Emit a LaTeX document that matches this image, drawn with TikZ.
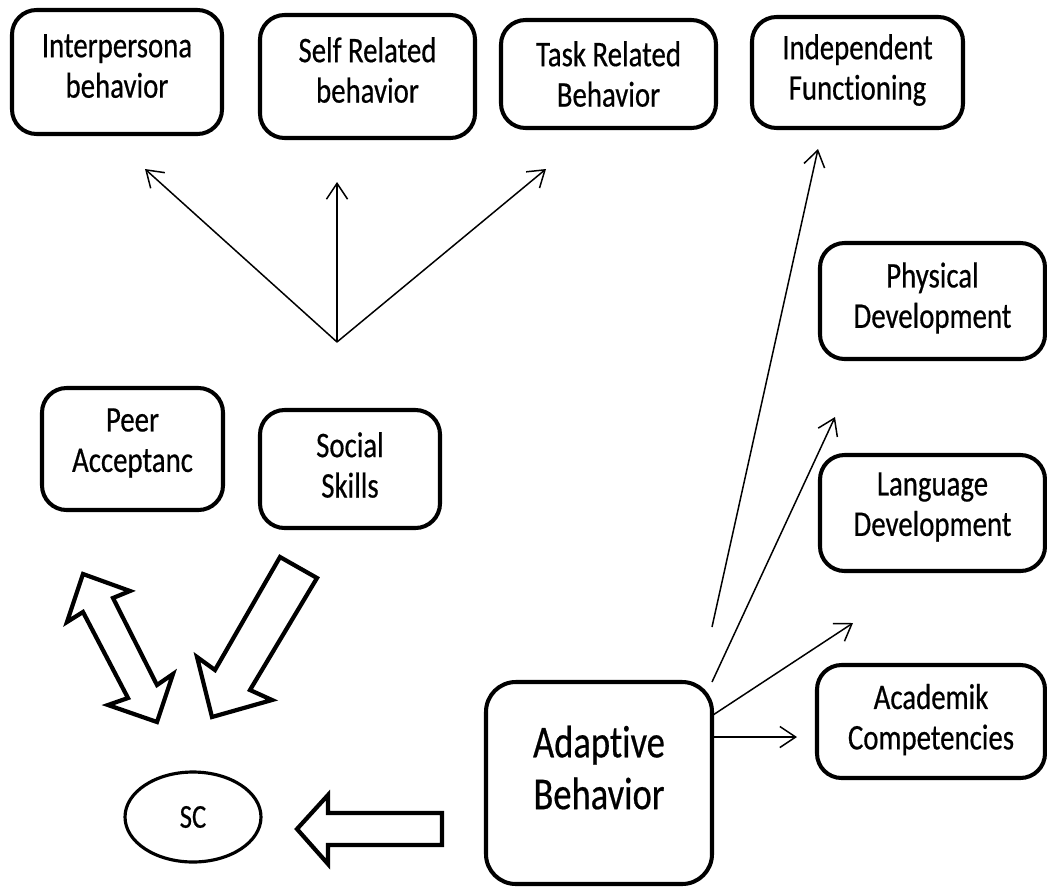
\documentclass[tikz,border=0pt]{standalone}
\usepackage{fontspec}
\setmainfont{Carlito}[FakeStretch=0.80, FakeBold=0.5, Ligatures={NoCommon}]
\usetikzlibrary{arrows.meta,fit,shapes.geometric}
\begin{document}
\begin{tikzpicture}[x=0.02cm,y=-0.02cm,
  box/.style={draw, line width=2.3pt, rounded corners=14pt, inner sep=0pt},
  bigbox/.style={box, rounded corners=17pt},
  txt/.style={align=center, inner sep=0pt, font=\fontsize{20.5}{23}\selectfont},
  bigtxt/.style={align=center, inner sep=0pt, font=\fontsize{26}{29.5}\selectfont},
  thinarrow/.style={line width=0.85pt, -{Straight Barb[length=9pt,width=12pt,line width=0.85pt]}},
  blockarrow/.style={draw, line width=2.4pt, miter limit=10, line join=miter}]
\useasboundingbox (0,0) rectangle (1047,886);

% top row
\node[box, fit={(12,10) (222,134)}, label={[txt,yshift=3.4pt]center:{Interpersona\\behavior}}] (ip) {};
\node[box, fit={(260,15) (475,138)}, label={[txt,yshift=3.7pt]center:{Self Related\\behavior}}] (sr) {};
\node[box, fit={(501,20) (716,128)}, label={[txt]center:{Task Related\\Behavior}}] (tr) {};
\node[box, fit={(752,17) (963,128)}, label={[txt,yshift=1.4pt]center:{Independent\\Functioning}}] (indf) {};

% right column
\node[box, fit={(820,243) (1045,359)}, label={[txt,yshift=1.7pt]center:{Physical\\Development}}] (pd) {};
\node[box, fit={(820,455) (1045,571)}, label={[txt,yshift=3.4pt]center:{Language\\Development}}] (ld) {};
\node[box, fit={(817,665) (1045,778)}, label={[txt,yshift=1.1pt]center:{Academik\\Competencies}}] (ac) {};

% left
\node[box, fit={(42,388) (223,510)}, label={[txt,yshift=3.4pt]center:{Peer\\Acceptanc}}] (pa) {};
\node[box, fit={(260,410) (440,528)}, label={[txt,yshift=2.3pt]center:{Social\\Skills}}] (ss) {};

% adaptive
\node[bigbox, fit={(486,682) (712,884)}, label={[bigtxt,yshift=8.8pt]center:{Adaptive\\Behavior}}] (ab) {};

% SC
\node[draw, ellipse, line width=1.8pt, minimum width=2.72cm, minimum height=1.8cm, inner sep=0pt,
      font=\fontsize{19}{22}\selectfont] (sc) at (193,817) {SC};

% fan arrows
\coordinate (fan) at (337,342);
\coordinate (tip1) at (145,169);
\coordinate (tip2) at (337,182);
\coordinate (tip3) at (546,169);
\draw[thinarrow] (fan) -- (tip1);
\draw[thinarrow] (fan) -- (tip2);
\draw[thinarrow] (fan) -- (tip3);

% adaptive arrows
\coordinate (s1) at (712,627);
\coordinate (e1) at (818,149);
\coordinate (s2) at (712,682);
\coordinate (e2) at (835,417);
\coordinate (s3) at (713,715);
\coordinate (e3) at (853,623);
\coordinate (s4) at (712,737);
\coordinate (e4) at (797,737);
\draw[thinarrow] (s1) -- (e1);
\draw[thinarrow] (s2) -- (e2);
\draw[thinarrow] (s3) -- (e3);
\draw[thinarrow] (s4) -- (e4);

% block arrows
\draw[blockarrow] (83,574) -- (130,591) -- (113,598) -- (157,685) -- (173,674) -- (157,722)
  -- (108,705) -- (128,698) -- (83,612) -- (67,622) -- cycle;
\draw[blockarrow] (280,557) -- (317,578) -- (250,690) -- (272,700) -- (212,717) -- (197,657)
  -- (215,670) -- cycle;
\draw[blockarrow] (297,829) -- (328,795) -- (328,813) -- (442,813) -- (442,845) -- (328,845)
  -- (328,864) -- cycle;
\end{tikzpicture}
\end{document}
